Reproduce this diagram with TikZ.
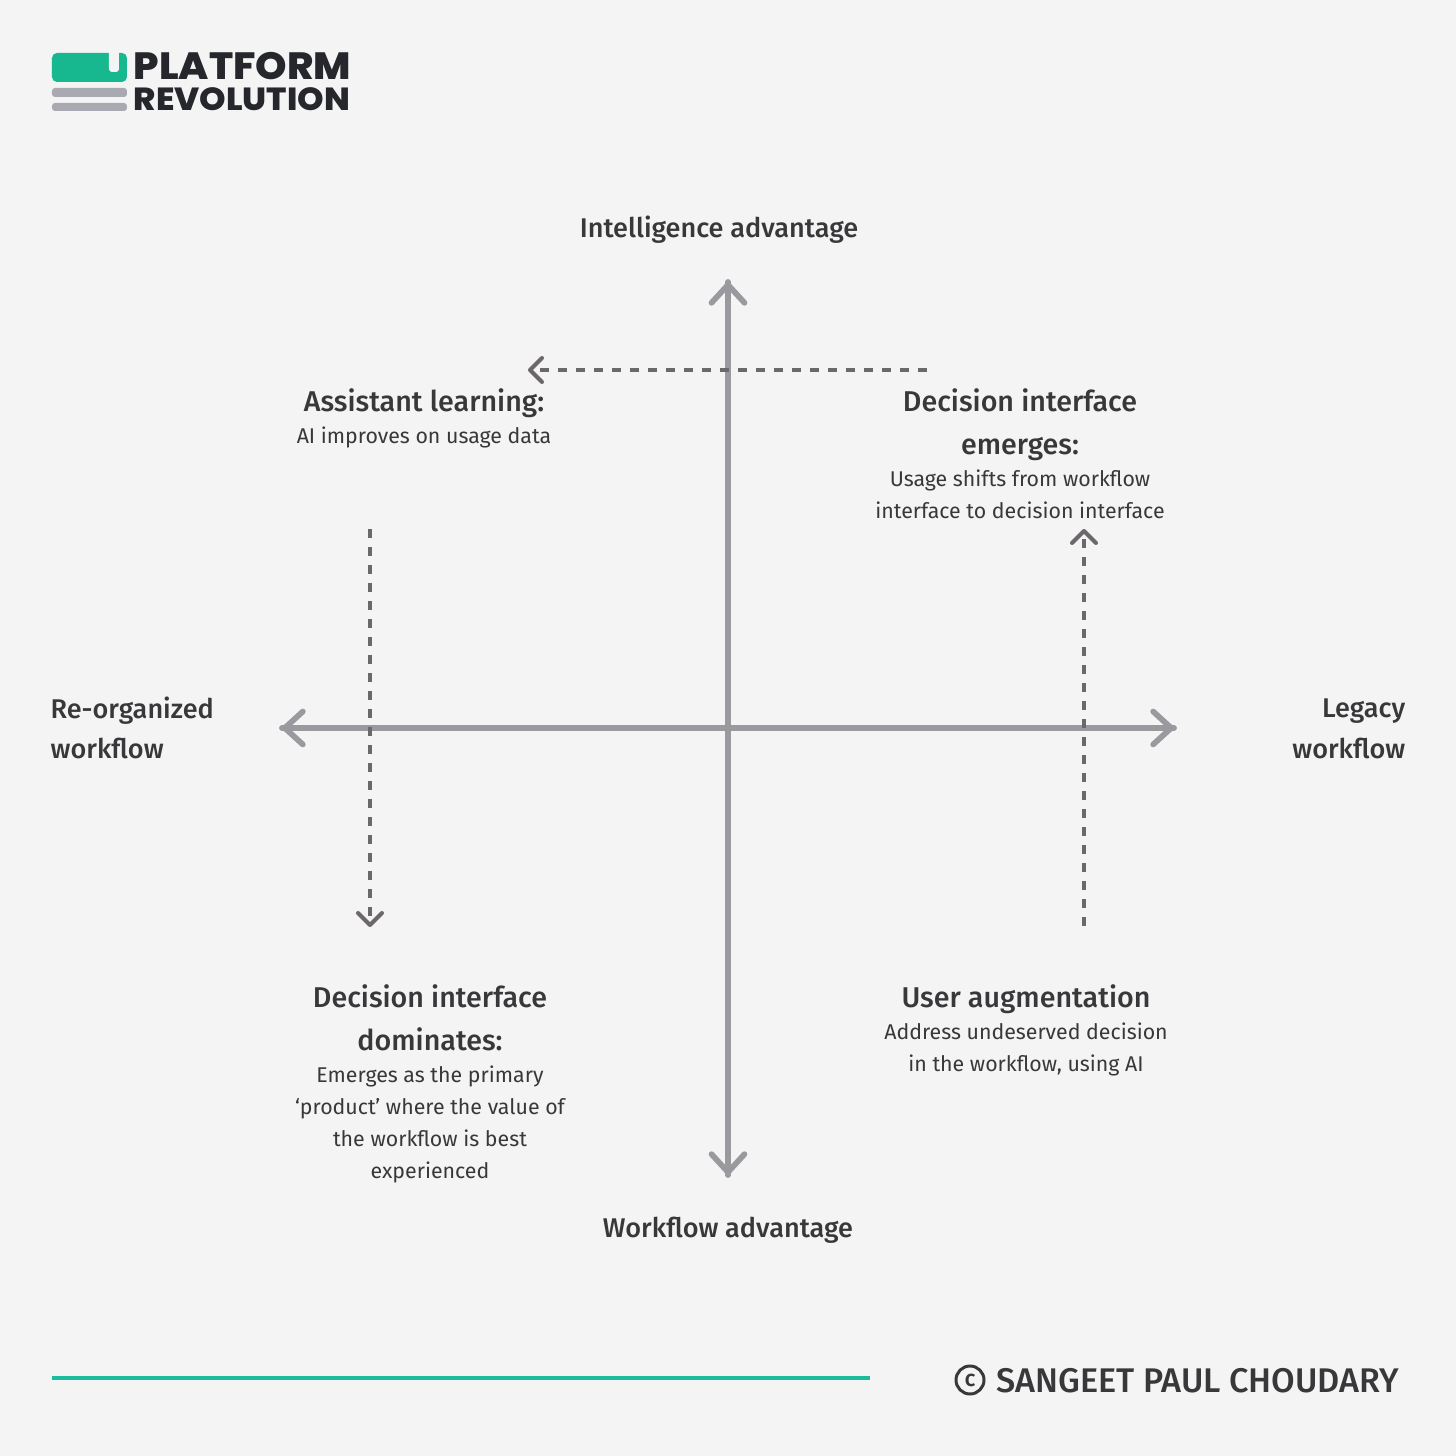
\documentclass[tikz,border=0pt]{standalone}
\usepackage{fontspec}
\setmainfont{Fira Sans}
\newfontfamily\headfont{Fira Sans Medium}
\newfontfamily\logofont{Poppins ExtraBold}[FakeStretch=1.055]
\usetikzlibrary{arrows.meta, positioning, calc}

\definecolor{pagebg}{HTML}{F4F4F4}
\definecolor{axisgray}{HTML}{9A999E}
\definecolor{dashgray}{HTML}{6B676B}
\definecolor{inkgray}{HTML}{38383A}
\definecolor{logogreen}{HTML}{17B890}
\definecolor{logogray}{HTML}{A9A9B1}
\definecolor{logoink}{HTML}{26272C}
\definecolor{rulegreen}{HTML}{1ABC9C}

\begin{document}
\begin{tikzpicture}[>={Straight Barb[length=0.18cm,width=0.33cm,round]}]

        % --- styles ---
        \tikzset{
            axisline/.style={draw=axisgray, line width=0.057cm, ->, line cap=round},
            shiftline/.style={draw=dashgray, line width=0.04cm, dash pattern=on 0.09cm off 0.09cm,
                -{Straight Barb[length=0.12cm,width=0.24cm,round,line width=0.04cm,sep=0pt]}},
            axislabel/.style={font=\fontsize{7.7pt}{11.6pt}\selectfont\headfont, text=inkgray, inner sep=0pt, align=center},
            quadrant/.style={text=inkgray, inner sep=0pt, align=center, font=\fontsize{6.07pt}{9.1pt}\selectfont},
        }
        \newcommand{\quadhead}[1]{{\fontsize{8.15pt}{12.2pt}\selectfont\headfont #1}}

        \useasboundingbox[fill=pagebg] (-7.28,-7.28) rectangle (7.28,7.28);

        % --- axes ---
        \coordinate (axis_n) at (0,4.46);
        \coordinate (axis_s) at (0,-4.47);
        \coordinate (axis_w) at (-4.46,0);
        \coordinate (axis_e) at (4.46,0);
        \draw[axisline] (axis_s) -- (axis_n);
        \draw[axisline] (axis_n) -- (axis_s);
        \draw[axisline] (axis_e) -- (axis_w);
        \draw[axisline] (axis_w) -- (axis_e);

        % --- axis labels ---
        \node (intel) [axislabel] at (-0.09,4.985) {Intelligence advantage};
        \node (flow) [axislabel] at (0,-5.025) {Workflow advantage};
        \node (reorg) [axislabel, align=left, anchor=west] at (-6.78,0) {Re-organized\\workflow};
        \node (legacy) [axislabel, align=right, anchor=east] at (6.78,-0.01) {Legacy\\workflow};

        % --- quadrants ---
        \node (assist) [quadrant, anchor=north] at (-3.04,3.40) {\quadhead{Assistant learning:}\\AI improves on usage data};
        \node (emerge) [quadrant, anchor=north] at (2.92,3.40) {\quadhead{Decision interface}\\[0.11cm]\quadhead{emerges:}\\Usage shifts from workflow\\interface to decision interface};
        \node (domin) [quadrant, anchor=north] at (-2.98,-2.56) {\quadhead{Decision interface}\\[0.11cm]\quadhead{dominates:}\\Emerges as the primary\\‘product’ where the value of\\the workflow is best\\experienced};
        \node (augment) [quadrant, anchor=north] at (2.98,-2.56) {\quadhead{User augmentation}\\Address undeserved decision\\in the workflow, using AI};

        % --- dashed shifts ---
        \coordinate (shift_a) at (1.99,3.58);
        \coordinate (shift_b) at (-2,3.58);
        \coordinate (shift_c) at (-3.58,1.99);
        \coordinate (shift_d) at (-3.58,-1.99);
        \coordinate (shift_e) at (3.56,-1.98);
        \coordinate (shift_f) at (3.56,1.99);
        \draw[shiftline] (shift_a) -- (shift_b);
        \draw[shiftline] (shift_c) -- (shift_d);
        \draw[shiftline] (shift_e) -- (shift_f);

        % --- logo ---
        \fill[logogreen, rounded corners=0.05cm] (-6.76,6.75) rectangle (-6.01,6.46);
        \fill[pagebg, rounded corners=0.03cm] (-6.19,6.85) rectangle (-6.09,6.56);
        \fill[logogray, rounded corners=0.03cm] (-6.76,6.40) rectangle (-6.01,6.31);
        \fill[logogray, rounded corners=0.03cm] (-6.76,6.25) rectangle (-6.01,6.17);
        \node (plat) [anchor=base west, inner sep=0pt, text=logoink, font=\fontsize{10.8pt}{12pt}\selectfont\logofont] at (-5.95,6.48) {PLATFORM};
        \node (revo) [anchor=base west, inner sep=0pt, text=logoink, font=\fontsize{9.1pt}{12pt}\selectfont\logofont] at (-5.95,6.17) {REVOLUTION};

        % --- footer ---
        \coordinate (rule_l) at (-6.76,-6.5);
        \coordinate (rule_r) at (1.42,-6.5);
        \draw[rulegreen, line width=0.04cm] (rule_l) -- (rule_r);
        \node (circ) [circle, draw=inkgray, line width=0.03cm, minimum size=0.28cm, inner sep=0pt, text=inkgray, font=\fontsize{6.5pt}{7pt}\selectfont\headfont] at (2.42,-6.52) {c};
        \node (sign) [anchor=west, inner sep=0pt, text=inkgray, font=\fontsize{9.73pt}{11pt}\selectfont\headfont] at (2.68,-6.53) {SANGEET PAUL CHOUDARY};

\end{tikzpicture}
\end{document}
